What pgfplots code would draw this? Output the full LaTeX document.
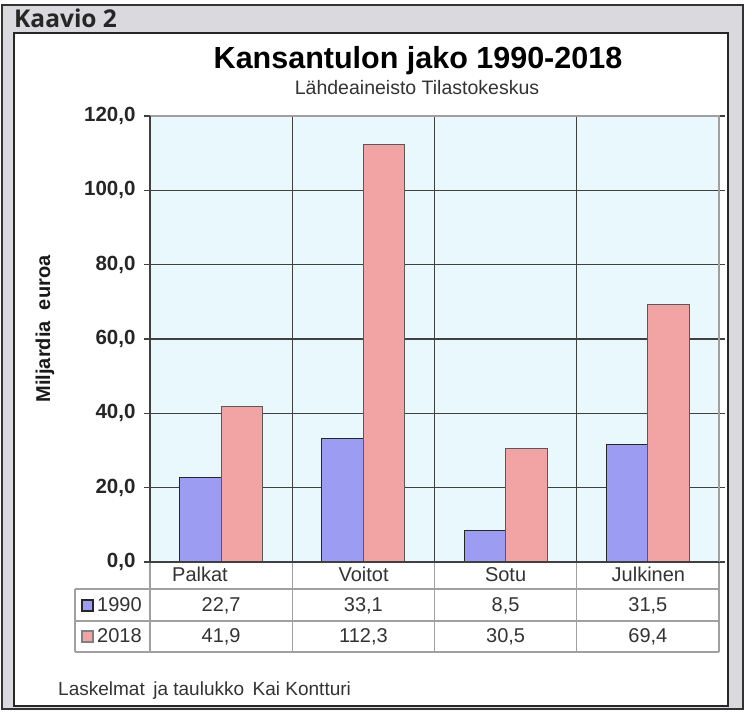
\documentclass[border=0pt]{standalone}
\usepackage{pgfplots}
\pgfplotsset{compat=1.18}
\usepackage{fontspec}
\setmainfont{Liberation Sans}
\newfontfamily\kaaviofont{Open Sans}
\definecolor{framebg}{HTML}{D9D9DE}
\definecolor{plotbg}{HTML}{E8F8FC}
\definecolor{sOne}{HTML}{9C9CF2}
\definecolor{sTwo}{HTML}{F2A3A3}
\definecolor{tline}{HTML}{A0A0A0}
\definecolor{gridc}{HTML}{404040}
\definecolor{txt}{HTML}{333333}
\begin{document}
\begin{tikzpicture}[x=1pt,y=1pt]
\fill[white] (0,0) rectangle (752,717);
\filldraw[fill=framebg, draw=black!80, line width=2pt] (2,8) rectangle (743,712);
\filldraw[fill=white, draw=black!85, line width=2.5pt] (14,11) rectangle (728,684);
\node[anchor=base west, font=\kaaviofont\bfseries\fontsize{24.5}{30}\selectfont, text=black!85, inner sep=0] at (14,689) {Kaavio 2};
\node[anchor=base, font=\bfseries\fontsize{30.5}{36}\selectfont, inner sep=0] at (418,648) {Kansantulon jako 1990-2018};
\node[anchor=base, font=\fontsize{19.5}{23}\selectfont, text=txt, inner sep=0] at (417,622) {Lähdeaineisto Tilastokeskus};
\begin{axis}[
  at={(150pt,155pt)}, anchor=south west,
  scale only axis, width=569pt, height=446pt,
  xmin=0, xmax=4, ymin=0, ymax=120,
  ybar=0pt, bar width=41.5pt,
  ytick={0,20,...,120},
  xtick=\empty,
  axis background/.style={fill=plotbg},
  axis line style={draw=none},
  ymajorgrids, grid style={gridc, line width=1.2pt},
  tick align=outside,
  major tick length=6pt,
  y tick style={gridc, line width=1.2pt},
  yticklabel style={font=\bfseries\fontsize{20.5}{24}\selectfont, text=black!85, xshift=-5pt, /pgf/number format/.cd, fixed, fixed zerofill, precision=1, use comma, assume math mode=true},
  clip=false,
]
\draw[gridc, line width=1.2pt] (axis cs:1,0) -- (axis cs:1,120);
\draw[gridc, line width=1.2pt] (axis cs:2,0) -- (axis cs:2,120);
\draw[gridc, line width=1.2pt] (axis cs:3,0) -- (axis cs:3,120);
\draw[tline, line width=1.2pt] (axis cs:0,120) -- (axis cs:4,120) -- (axis cs:4,0);
\addplot[fill=sOne, draw=black!85, line width=1pt] coordinates {(0.5,22.7) (1.5,33.1) (2.5,8.5) (3.5,31.5)};
\addplot[fill=sTwo, draw=black!65, line width=1pt] coordinates {(0.5,41.9) (1.5,112.3) (2.5,30.5) (3.5,69.4)};
\draw[gridc, line width=1.4pt] (axis cs:0,0) -- (axis cs:0,120);
\draw[gridc, line width=1.2pt] (axis cs:0,0) -- (axis cs:4,0);
\end{axis}
% data table
\draw[tline, line width=1.2pt] (75,128) -- (719,128);
\draw[tline, line width=1.2pt] (75,96) -- (719,96);
\draw[tline, line width=1.2pt] (75,65) -- (719,65);
\draw[tline, line width=1.2pt] (75,128) -- (75,65);
\foreach \xx in {150,292.25,434.5,576.75,719} {\draw[tline, line width=1.2pt] (\xx,154) -- (\xx,65);}
\begin{scope}[every node/.style={anchor=base, inner sep=0, text=txt, font=\fontsize{20}{24}\selectfont}]
\node at (200,135) {Palkat};
\node at (363.6,135) {Voitot};
\node at (505.6,135) {Sotu};
\node at (648.4,135) {Julkinen};
\node at (221.1,105) {22,7};
\node at (363.4,105) {33,1};
\node at (505.6,105) {8,5};
\node at (647.9,105) {31,5};
\node at (221.1,74) {41,9};
\node at (363.4,74) {112,3};
\node at (505.6,74) {30,5};
\node at (647.9,74) {69,4};
\node[anchor=base west] at (97,105) {1990};
\node[anchor=base west] at (97,74) {2018};
\node[anchor=base west, font=\fontsize{19}{23}\selectfont] at (58,21) {Laskelmat\hspace{0.45em}ja taulukko\hspace{0.45em}Kai Kontturi};
\end{scope}
\filldraw[fill=sOne, draw=black!85, line width=1.3pt] (82,106) rectangle (93,117);
\filldraw[fill=sTwo, draw=black!50, line width=1.3pt] (82,75) rectangle (93,86);
\node[rotate=90, font=\bfseries\fontsize{20}{24}\selectfont, text=black!90, inner sep=0] at (45,388) {Miljardia\ \ euroa};
\end{tikzpicture}
\end{document}
